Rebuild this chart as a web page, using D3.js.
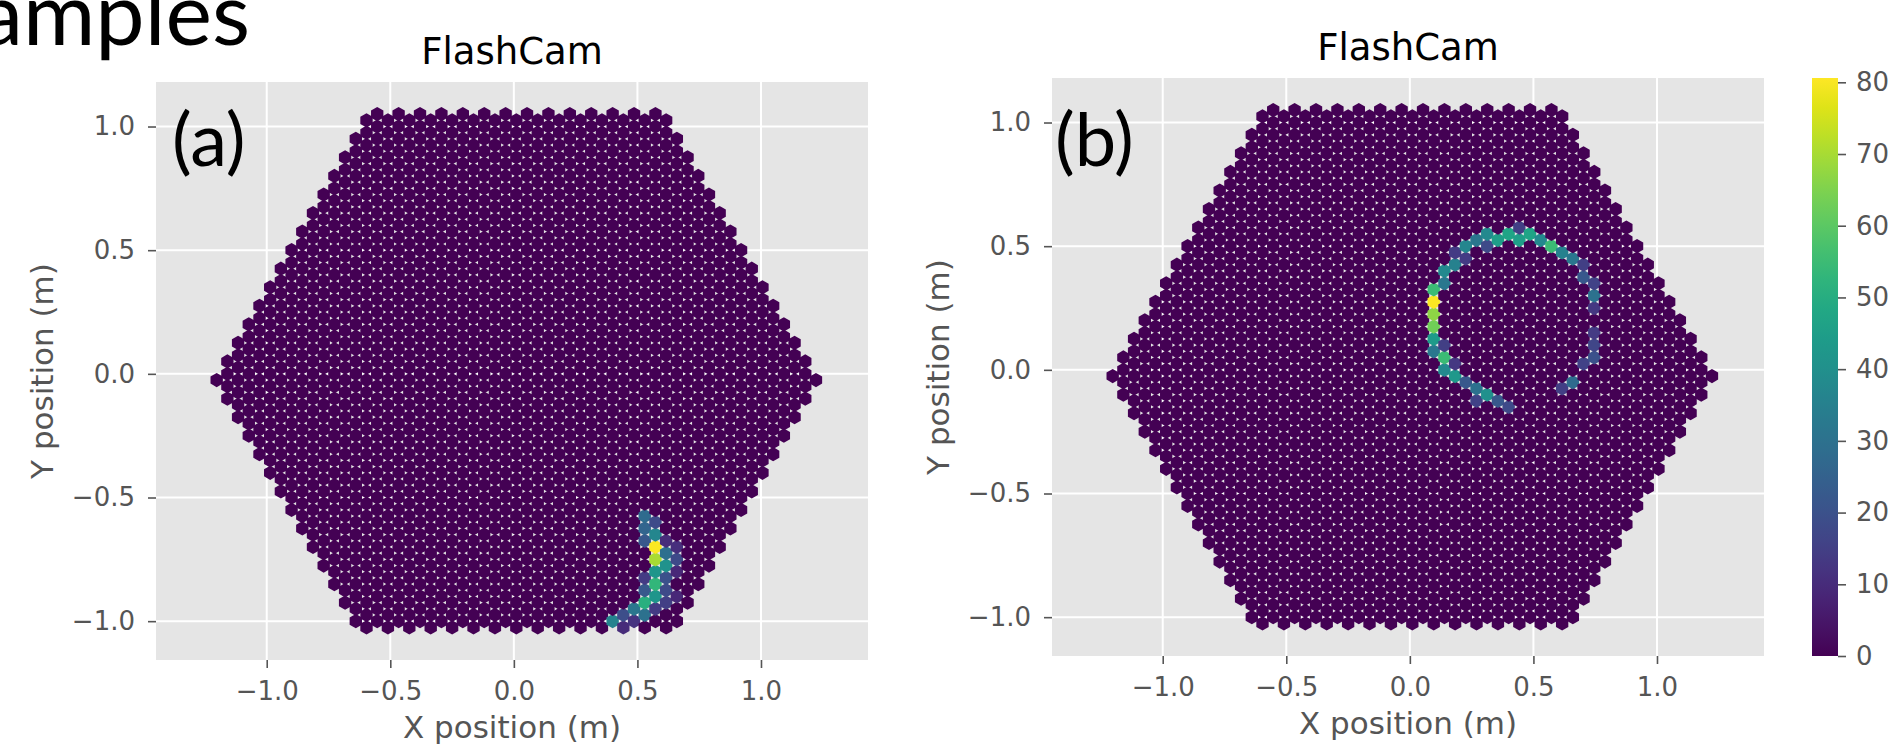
<!DOCTYPE html>
<html>
<head>
<meta charset="utf-8">
<script src="https://cdn.jsdelivr.net/npm/d3@7"></script>
<style>
body { margin: 0; background: #fff; }
svg { display: block; }
</style>
</head>
<body>
<svg id="chart" width="1900" height="747"></svg>
<script>
// axis ticks / ranges
var xTicks = [-1.0, -0.5, 0.0, 0.5, 1.0];
var yTicks = [-1.0, -0.5, 0.0, 0.5, 1.0];
var cbarTicks = [0, 10, 20, 30, 40, 50, 60, 70, 80];
var xDomain = [-1.448, 1.433];
var yDomain = [-1.157, 1.180];
var colorMax = 80.6;

// camera grid: columns of hex pixels, odd columns shifted half a pitch
var pixPitch = 0.05;
var colStep = pixPitch * Math.sqrt(3) / 2;
var camOffsetX = 0.01;

// event (a): pixel column, row in column, charge
var colsA = [12, 12, 12, 12, 12, 12, 12,
             13, 13, 13, 13, 13, 13, 13, 13,
             14, 14, 14, 14, 14, 14,
             15, 15, 15, 15,
             11, 11, 10, 10, 9];
var rowsA = [-11, -12, -13, -16, -17, -18, -19,
             -12, -13, -14, -15, -16, -17, -18, -19,
             -13, -14, -15, -16, -17, -18,
             -14, -15, -16, -18,
             -19, -20, -19, -20, -20];
var valsA = [28, 26, 22, 14, 22, 51, 30,
             18, 37, 80, 70, 42, 53, 42, 14,
             10, 29, 41, 20, 18, 15,
             11, 18, 9, 9,
             32, 12, 19, 10, 36];

// event (b): ring
var colsB = [2, 2, 2, 2, 2, 2,
             3, 3, 3, 3, 3,
             4, 4, 4, 4,
             5, 5, 5,
             6, 6, 6,
             7, 7, 7,
             8, 8,
             9, 9,
             10, 10,
             11, 12, 13,
             14, 14,
             15, 15,
             16, 16, 16,
             17, 17, 17, 17, 17, 17];
var rowsB = [7, 6, 5, 4, 3, 2,
             8, 7, 2, 1, 0,
             10, 9, 1, 0,
             10, 9, -1,
             11, -1, -2,
             11, 10, -2,
             11, -2,
             11, -3,
             12, 11,
             11, 11, 10,
             10, -1,
             9, -1,
             9, 8, 1,
             7, 6, 5, 3, 2, 1];
var valsB = [55, 80, 67, 63, 44, 32,
             38, 32, 15, 55, 38,
             14, 35, 13, 43,
             37, 14, 22,
             32, 30, 16,
             38, 18, 40,
             45, 22,
             47, 18,
             15, 45,
             47, 38, 55,
             35, 15,
             32, 28,
             15, 22, 16,
             16, 30, 13, 14, 17, 20];

var svg = d3.select('#chart');
var color = d3.scaleSequential(d3.interpolateViridis).domain([0, colorMax]);
var fmt = d3.format('.1f');

function cameraPixels(cols, rows, vals) {
    var pix = [];
    for (var i = -28; i <= 28; i++) {
        var even = (i % 2 === 0);
        var k = 28 - Math.abs(i);
        for (var j = -22; j <= 22; j++) {
            var y = j * pixPitch - (even ? pixPitch / 2 : 0);
            if (y < -1.03 || y > 1.055) continue;
            if (Math.abs(y + 0.025) > k * 0.075 + 0.01) continue;
            pix.push({col: i, row: j, x: i * colStep + camOffsetX, y: y, value: 0});
        }
    }
    cols.forEach((c, n) => {
        var p = pix.find(d => d.col === c && d.row === rows[n]);
        if (p) p.value = vals[n];
    });
    return pix;
}

function hexPath(cx, cy, r) {
    var p = d3.path();
    for (var n = 0; n < 6; n++) {
        var a = Math.PI / 2 + n * Math.PI / 3;
        var px = cx + r * Math.cos(a);
        var py = cy - r * Math.sin(a);
        if (n === 0) p.moveTo(px, py);
        else p.lineTo(px, py);
    }
    p.closePath();
    return p.toString();
}

function drawPanel(left, top, cols, rows, vals) {
    var w = 712, h = 578;
    var g = svg.append('g').attr('transform', `translate(${left},${top})`);

    var x = d3.scaleLinear().domain(xDomain).range([0, w]);
    var y = d3.scaleLinear().domain(yDomain).range([h, 0]);

    g.append('rect')
     .attr('width', w)
     .attr('height', h)
     .attr('fill', '#e5e5e5');

    g.selectAll('.vgrid')
     .data(xTicks)
     .enter()
     .append('line')
     .attr('x1', d => x(d))
     .attr('x2', d => x(d))
     .attr('y1', 0)
     .attr('y2', h)
     .attr('stroke', '#fff')
     .attr('stroke-width', 2);

    g.selectAll('.hgrid')
     .data(yTicks)
     .enter()
     .append('line')
     .attr('x1', 0)
     .attr('x2', w)
     .attr('y1', d => y(d))
     .attr('y2', d => y(d))
     .attr('stroke', '#fff')
     .attr('stroke-width', 2);

    var r = (pixPitch / Math.sqrt(3)) * (x(1) - x(0));
    g.selectAll('.pix')
     .data(cameraPixels(cols, rows, vals))
     .enter()
     .append('path')
     .attr('d', d => hexPath(x(d.x), y(d.y), r))
     .attr('fill', d => color(d.value));

    var xAxis = g.append('g')
                 .attr('transform', `translate(0,${h})`)
                 .call(d3.axisBottom(x).tickValues(xTicks).tickFormat(fmt).tickSize(8).tickPadding(14));
    var yAxis = g.append('g')
                 .call(d3.axisLeft(y).tickValues(yTicks).tickFormat(fmt).tickSize(8).tickPadding(13));

    [xAxis, yAxis].forEach(a => {
        a.select('.domain').remove();
        a.selectAll('line').attr('stroke', '#555').attr('stroke-width', 1.6);
        a.selectAll('text')
         .attr('fill', '#555')
         .style('font-family', 'DejaVu Sans')
         .style('font-size', '26px');
    });

    g.append('text')
     .text('FlashCam')
     .attr('x', w / 2)
     .attr('y', -18)
     .attr('text-anchor', 'middle')
     .style('font-family', 'DejaVu Sans')
     .style('font-size', '37px')
     .attr('fill', '#000');

    g.append('text')
     .text('X position (m)')
     .attr('x', w / 2)
     .attr('y', 656)
     .attr('text-anchor', 'middle')
     .style('font-family', 'DejaVu Sans')
     .style('font-size', '31px')
     .attr('fill', '#555');

    g.append('text')
     .text('Y position (m)')
     .attr('transform', 'rotate(-90)')
     .attr('x', -h / 2)
     .attr('y', -103)
     .attr('text-anchor', 'middle')
     .style('font-family', 'DejaVu Sans')
     .style('font-size', '31px')
     .attr('fill', '#555');
}

function drawColorbar(left, top) {
    var w = 26, h = 578;
    var grad = svg.append('defs')
                  .append('linearGradient')
                  .attr('id', 'viridis')
                  .attr('x1', 0).attr('x2', 0)
                  .attr('y1', 1).attr('y2', 0);
    d3.range(0, 1.001, 0.05).forEach(t => {
        grad.append('stop')
            .attr('offset', t)
            .attr('stop-color', d3.interpolateViridis(t));
    });

    var g = svg.append('g').attr('transform', `translate(${left},${top})`);
    g.append('rect')
     .attr('width', w)
     .attr('height', h)
     .attr('fill', 'url(#viridis)');

    var c = d3.scaleLinear().domain([0, colorMax]).range([h, 0]);
    var axis = g.append('g')
                .attr('transform', `translate(${w},0)`)
                .call(d3.axisRight(c).tickValues(cbarTicks).tickSize(8).tickPadding(10));
    axis.select('.domain').remove();
    axis.selectAll('line').attr('stroke', '#555').attr('stroke-width', 1.6);
    axis.selectAll('text')
        .attr('fill', '#555')
        .style('font-family', 'DejaVu Sans')
        .style('font-size', '26px');
}

function slideText(text, x, y, size, anchor) {
    svg.append('text')
       .text(text)
       .attr('x', x)
       .attr('y', y)
       .attr('text-anchor', anchor)
       .style('font-family', 'Lato')
       .style('font-size', size + 'px')
       .attr('fill', '#000');
}

drawPanel(156, 82, colsA, rowsA, valsA);
drawPanel(1052, 78, colsB, rowsB, valsB);
drawColorbar(1812, 78);

slideText('Examples', 250, 45, 88, 'end');
slideText('(a)', 172, 166, 74, 'start');
slideText('(b)', 1055, 166, 74, 'start');
</script>
</body>
</html>
